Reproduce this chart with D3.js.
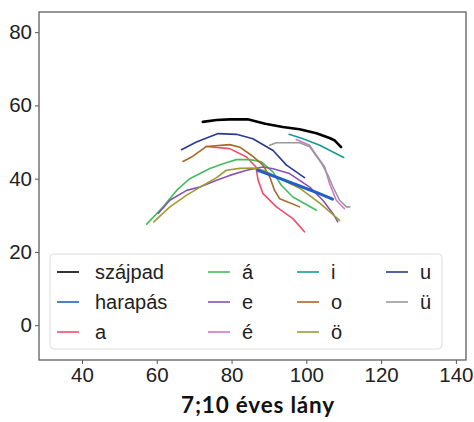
<!DOCTYPE html>
<html>
<head>
<meta charset="utf-8">
<script src="https://cdn.jsdelivr.net/npm/d3@7"></script>
<style>
  body { margin: 0; background: #fff; }
  svg text { font-family: "Liberation Sans", Arial, sans-serif; }
</style>
</head>
<body>
<script>
'use strict';

// series names, in legend order
let names = ["szájpad", "harapás", "a", "á", "e", "é", "i", "o", "ö", "u", "ü"];

let colors = {
  "szájpad": "#000000",
  "harapás": "#2360c4",
  "a": "#f24d6c",
  "á": "#44bd60",
  "e": "#8852b8",
  "é": "#cf78c9",
  "i": "#17999a",
  "o": "#a8672c",
  "ö": "#9c9c31",
  "u": "#2b3a91",
  "ü": "#9a9a9a"
};

// x / y values
let szajpadX = [72.3, 76.0, 79.5, 84.3, 89.0, 93.7, 98.2, 102.7, 106.2, 107.5, 109.3];
let szajpadY = [55.5, 56.0, 56.2, 56.2, 55.0, 54.1, 53.5, 52.4, 51.1, 50.5, 48.6];

let harapasX = [87.0, 92.9, 98.2, 103.0, 107.0];
let harapasY = [42.3, 40.1, 38.0, 36.1, 34.4];

let aX = [73.1, 79.5, 84.0, 86.5, 87.1, 88.4, 92.0, 96.4, 99.5];
let aY = [48.8, 48.2, 45.9, 43.2, 39.6, 35.9, 32.3, 29.1, 25.5];

let aaX = [57.3, 61.7, 65.3, 68.8, 74.2, 77.7, 81.3, 84.9, 88.0, 91.1, 93.3, 96.4, 102.7];
let aaY = [27.6, 32.3, 36.8, 40.0, 42.8, 44.1, 45.2, 45.2, 44.6, 41.8, 38.2, 35.0, 31.4];

let eX = [60.4, 63.5, 68.0, 71.5, 76.0, 79.5, 84.0, 88.4, 91.1, 95.5, 100.9, 104.4, 107.1, 108.4];
let eY = [30.5, 34.1, 36.8, 37.7, 39.6, 40.9, 42.3, 43.2, 42.7, 41.4, 37.7, 34.1, 30.5, 28.2];

let eeX = [97.3, 100.9, 101.8, 104.9, 106.2, 108.0, 110.2];
let eeY = [50.7, 49.1, 47.7, 43.2, 38.7, 34.1, 31.8];

let iX = [95.4, 99.1, 103.6, 107.1, 110.0];
let iY = [52.1, 50.9, 49.1, 47.3, 45.8];

let oX = [67.0, 69.3, 73.3, 79.5, 82.2, 85.3, 88.4, 90.2, 91.5, 92.9, 98.2];
let oY = [44.7, 45.9, 48.8, 49.3, 48.6, 46.4, 43.7, 40.5, 36.8, 34.5, 32.3];

let ooX = [59.2, 63.5, 68.0, 73.3, 76.0, 78.6, 82.2, 85.7, 88.4, 92.0, 98.2, 103.6, 108.9];
let ooY = [28.2, 32.3, 35.5, 38.7, 40.3, 42.3, 42.8, 42.9, 42.3, 40.5, 37.4, 33.3, 28.6];

let uX = [66.6, 70.6, 76.4, 81.3, 85.7, 91.1, 94.7, 99.5];
let uY = [47.9, 50.0, 52.3, 52.1, 50.9, 47.7, 43.7, 40.3];

let uuX = [90.2, 92.0, 98.2, 100.9, 104.0, 105.8, 107.1, 108.9, 110.7, 111.6];
let uuY = [49.1, 49.8, 49.8, 48.7, 44.3, 40.9, 37.8, 34.1, 32.3, 32.3];

let xTicks = [40, 60, 80, 100, 120, 140];
let yTicks = [0, 20, 40, 60, 80];
let title = "7;10 éves lány";

let series = {
  "szájpad": [szajpadX, szajpadY],
  "harapás": [harapasX, harapasY],
  "a": [aX, aY],
  "á": [aaX, aaY],
  "e": [eX, eY],
  "é": [eeX, eeY],
  "i": [iX, iY],
  "o": [oX, oY],
  "ö": [ooX, ooY],
  "u": [uX, uY],
  "ü": [uuX, uuY]
};

let widths = { "szájpad": 2.6, "harapás": 3 };

// drawing order (harapás on top of the vowels)
let drawOrder = ["szájpad", "a", "á", "e", "é", "i", "o", "ö", "u", "ü", "harapás"];

let svg = d3.select('body').append('svg')
  .attr('width', 474)
  .attr('height', 422);

let plotLeft = 39, plotRight = 466, plotTop = 12, plotBottom = 360;

let xScale = d3.scaleLinear().domain([28.5, 142.7]).range([plotLeft, plotRight]);
let yScale = d3.scaleLinear().domain([-9.5, 85.5]).range([plotBottom, plotTop]);

// axes
let xAxis = d3.axisBottom(xScale).tickValues(xTicks).tickSize(4).tickPadding(3);
let yAxis = d3.axisLeft(yScale).tickValues(yTicks).tickSize(4).tickPadding(3);

let gx = svg.append('g')
  .attr('transform', 'translate(0,' + plotBottom + ')')
  .call(xAxis);
let gy = svg.append('g')
  .attr('transform', 'translate(' + plotLeft + ',0)')
  .call(yAxis);

[gx, gy].forEach(function(g) {
  g.select('.domain').remove();
  g.selectAll('line').attr('stroke', '#555').attr('stroke-width', 1);
  g.selectAll('text')
    .attr('fill', '#222')
    .style('font-size', '20.5px')
    .style('font-family', '"Liberation Sans", Arial, sans-serif');
});

// frame
svg.append('rect')
  .attr('x', plotLeft)
  .attr('y', plotTop)
  .attr('width', plotRight - plotLeft)
  .attr('height', plotBottom - plotTop)
  .attr('fill', 'none')
  .attr('stroke', '#5f5f5f')
  .attr('stroke-width', 1.3);

// curves
let line = d3.line()
  .x(function(d) { return xScale(d[0]); })
  .y(function(d) { return yScale(d[1]); });

drawOrder.forEach(function(name) {
  let xs = series[name][0];
  let ys = series[name][1];
  let pts = xs.map(function(x, i) { return [x, ys[i]]; });
  svg.append('path')
    .datum(pts)
    .attr('d', line)
    .attr('fill', 'none')
    .attr('stroke', colors[name])
    .attr('stroke-width', widths[name] || 1.6)
    .attr('stroke-linejoin', 'round')
    .attr('stroke-linecap', 'round');
});

// legend
svg.append('rect')
  .attr('x', 50)
  .attr('y', 254)
  .attr('width', 392)
  .attr('height', 95)
  .attr('rx', 4)
  .attr('fill', '#fff')
  .attr('fill-opacity', 0.85)
  .attr('stroke', '#ddd')
  .attr('stroke-width', 1);

let colX = [57, 208, 297, 386];
let legend = svg.selectAll('.legend')
  .data(names)
  .enter().append('g')
  .attr('class', 'legend')
  .attr('transform', function(d, i) {
    let col = Math.floor(i / 3), row = i % 3;
    return 'translate(' + colX[col] + ',' + (272 + row * 30) + ')';
  });

legend.append('line')
  .attr('x1', 0).attr('x2', 22)
  .attr('y1', 0).attr('y2', 0)
  .attr('stroke', function(d) { return colors[d]; })
  .attr('stroke-width', 1.6);

legend.append('text')
  .attr('x', function(d, i) { return Math.floor(i / 3) === 0 ? 38 : 34; })
  .attr('y', 7)
  .style('font-size', '20px')
  .attr('fill', '#222')
  .text(function(d) { return d; });

// title
svg.append('text')
  .attr('x', 258)
  .attr('y', 413)
  .attr('text-anchor', 'middle')
  .style('font-family', 'Lato, "Open Sans", sans-serif')
  .style('font-weight', 'bold')
  .style('font-size', '22.5px')
  .style('letter-spacing', '0.8px')
  .attr('fill', '#111')
  .text(title);
</script>
</body>
</html>
